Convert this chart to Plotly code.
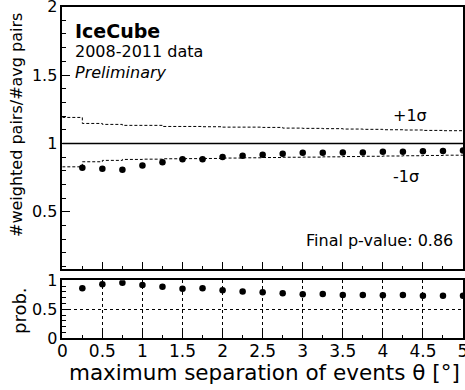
import plotly.graph_objects as go

# ---------------- data ----------------
sep_deg = [0.25, 0.5, 0.75, 1.0, 1.25, 1.5, 1.75, 2.0, 2.25, 2.5,
           2.75, 3.0, 3.25, 3.5, 3.75, 4.0, 4.25, 4.5, 4.75, 5.0]
ratio = [0.822, 0.815, 0.807, 0.839, 0.863, 0.885, 0.885, 0.900, 0.909, 0.917,
         0.924, 0.931, 0.931, 0.934, 0.934, 0.939, 0.939, 0.942, 0.944, 0.949]
prob = [0.862, 0.931, 0.959, 0.919, 0.890, 0.855, 0.862, 0.828, 0.805, 0.793,
        0.776, 0.759, 0.764, 0.747, 0.747, 0.741, 0.747, 0.735, 0.735, 0.735]

band_edges = [0.0, 0.25, 0.5, 0.75, 1.0, 1.25, 1.5, 1.75, 2.0, 2.25, 2.5,
              2.75, 3.0, 3.25, 3.5, 3.75, 4.0, 4.25, 4.5, 4.75, 5.0]
plus_sigma = [1.190, 1.146, 1.139, 1.132, 1.132, 1.124, 1.124, 1.122, 1.119, 1.119,
              1.117, 1.112, 1.110, 1.108, 1.105, 1.103, 1.100, 1.098, 1.095, 1.093]
minus_sigma = [0.829, 0.866, 0.876, 0.883, 0.885, 0.888, 0.889, 0.890, 0.893, 0.895,
               0.897, 0.899, 0.900, 0.902, 0.904, 0.906, 0.908, 0.910, 0.912, 0.914]

ref_level = 1.0
x_tick_vals = [0, 0.5, 1, 1.5, 2, 2.5, 3, 3.5, 4, 4.5, 5]
x_tick_text = ["0", "0.5", "1", "1.5", "2", "2.5", "3", "3.5", "4", "4.5", "5"]
y_top_ticks = [0.5, 1, 1.5, 2]
y_top_text = ["0.5", "1", "1.5", "2"]
y_bot_ticks = [0, 0.5, 1]
y_bot_text = ["0", "0.5", "1"]

# ---------------- figure ----------------
W, H = 465, 390
FONT = "DejaVu Sans"


def px_x(p):
    return p / W


def px_y(p):
    return 1 - p / H


fig = go.Figure()

# sigma bands (step histograms)
for vals in (plus_sigma, minus_sigma):
    fig.add_trace(go.Scatter(
        x=band_edges, y=vals + [vals[-1]], mode="lines", line_shape="hv",
        line=dict(color="black", width=1, dash="3px,2px"),
        xaxis="x", yaxis="y", showlegend=False, hoverinfo="skip"))

# reference line at 1
fig.add_trace(go.Scatter(
    x=[band_edges[0], band_edges[-1]], y=[ref_level, ref_level], mode="lines",
    line=dict(color="black", width=1.5), xaxis="x", yaxis="y",
    showlegend=False, hoverinfo="skip"))

fig.add_trace(go.Scatter(
    x=sep_deg, y=ratio, mode="markers",
    marker=dict(color="black", size=6.5, symbol="circle"),
    xaxis="x", yaxis="y", showlegend=False))

fig.add_trace(go.Scatter(
    x=sep_deg, y=prob, mode="markers",
    marker=dict(color="black", size=6.5, symbol="circle"),
    xaxis="x2", yaxis="y2", showlegend=False))

xdom = [px_x(62.3), px_x(463.0)]
axis_common = dict(showline=True, linecolor="black", linewidth=1.5, mirror=True,
                   ticks="inside", ticklen=8, tickcolor="black", tickwidth=1,
                   zeroline=False, automargin=False, ticklabeloverflow="allow")

fig.update_layout(
    width=W, height=H,
    margin=dict(l=0, r=0, t=0, b=0, autoexpand=False),
    paper_bgcolor="white", plot_bgcolor="white",
    font=dict(family=FONT, color="black"),
    xaxis=dict(domain=xdom, range=[0, 5], anchor="y", showticklabels=False,
               tickvals=x_tick_vals, showgrid=False,
               minor=dict(tickvals=[v + 0.25 for v in x_tick_vals[:-1]],
                          ticklen=4, ticks="inside", tickcolor="black"),
               **axis_common),
    yaxis=dict(domain=[px_y(269.3), px_y(6.6)], range=[0.08, 2.0], anchor="x",
               tickvals=y_top_ticks, ticktext=y_top_text, showgrid=False,
               tickfont=dict(size=16, family=FONT), ticklabelstandoff=0,
               minor=dict(dtick=0.1, tick0=0, ticklen=4, ticks="inside",
                          tickcolor="black"),
               **axis_common),
    xaxis2=dict(domain=xdom, range=[0, 5], anchor="y2",
                tickvals=x_tick_vals, ticktext=x_tick_text,
                tickfont=dict(size=17, family=FONT), ticklabelstandoff=-3,
                showgrid=True, gridcolor="black", griddash="dot", gridwidth=1,
                minor=dict(tickvals=[v + 0.25 for v in x_tick_vals[:-1]],
                           ticklen=4, ticks="inside", tickcolor="black"),
                **axis_common),
    yaxis2=dict(domain=[px_y(338.3), px_y(280.3)], range=[0, 1], anchor="x2",
                tickvals=y_bot_ticks, ticktext=y_bot_text,
                tickfont=dict(size=16, family=FONT), ticklabelstandoff=0,
                showgrid=True, gridcolor="black", griddash="dot", gridwidth=1,
                minor=dict(dtick=0.1, tick0=0, ticklen=4, ticks="inside",
                           tickcolor="black"),
                **axis_common),
)


def ann(text, x, y, size, xanchor="center", angle=0, bold=False, italic=False):
    fig.add_annotation(
        text=text, xref="paper", yref="paper", x=px_x(x), y=px_y(y),
        xanchor=xanchor, yanchor="middle", showarrow=False, textangle=angle,
        font=dict(family=FONT, size=size, color="black",
                  weight="bold" if bold else "normal",
                  style="italic" if italic else "normal"))


ann("IceCube", 73, 31, 19, xanchor="left", bold=True)
ann("2008-2011 data", 73, 52, 16, xanchor="left")
ann("Preliminary", 73, 72, 16, xanchor="left", italic=True)
ann("+1σ", 410, 115, 16)
ann("-1σ", 406, 177, 16)
ann("Final p-value: 0.86", 455, 240, 16, xanchor="right")
ann("#weighted pairs/#avg pairs", 17, 125, 16, angle=-90)
ann("prob.", 19, 311, 18, angle=-90)
ann("maximum separation of events θ [°]", 264, 372, 21.5)

fig.write_html("out.html")
